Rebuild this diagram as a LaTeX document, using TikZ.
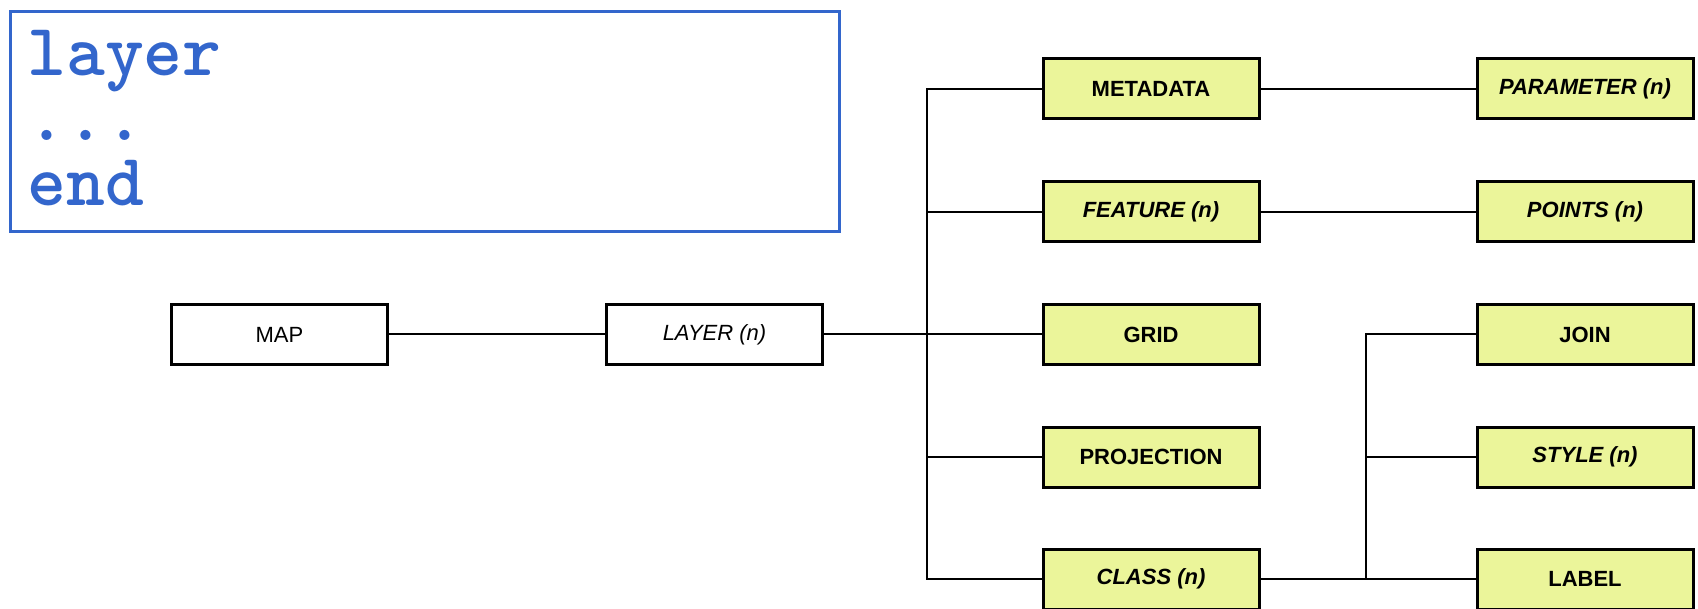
\documentclass[tikz,border=0pt]{standalone}
\usepackage{fontspec}
\newfontfamily\boxfont{Liberation Sans}
\newfontfamily\codefont{lmmonolt10-bold.otf}
\definecolor{codeblue}{RGB}{51,102,204}
\definecolor{boxyellow}{RGB}{235,245,154}

\begin{document}
\begin{tikzpicture}[x=0.5pt,y=-0.5pt,
    plain/.style={shape=rectangle,draw=black,line width=1.5pt,minimum width=108pt,minimum height=30pt,inner sep=0pt,font=\boxfont\fontsize{11}{13}\selectfont},
    entry/.style={plain,fill=boxyellow,font=\boxfont\bfseries\fontsize{11}{13}\selectfont},
    link/.style={-,black,line width=1pt}]

    \useasboundingbox (0,0) rectangle (1698,609);

    \node[shape=rectangle,draw=codeblue,line width=1.5pt,minimum width=414.5pt,minimum height=110pt] (frame) at (425,121.5) {};
    \node[anchor=base west,inner sep=0pt,align=left,text=codeblue,font=\codefont\fontsize{37}{32.5}\selectfont] (code) at (27,206) {layer\\...\\end};

    \node[plain] (map) at (279.5,334.5) {MAP};
    \node[plain] (layer) at (714.5,334.5) {\itshape LAYER (n)};

    \node[entry] (meta) at (1151,89) {METADATA};
    \node[entry] (feature) at (1151,212) {\itshape FEATURE (n)};
    \node[entry] (grid) at (1151,334.5) {GRID};
    \node[entry] (projection) at (1151,457) {PROJECTION};
    \node[entry] (class) at (1151,579) {\itshape CLASS (n)};

    \node[entry] (param) at (1585,89) {\itshape PARAMETER (n)};
    \node[entry] (points) at (1585,212) {\itshape POINTS (n)};
    \node[entry] (join) at (1585,334.5) {JOIN};
    \node[entry] (style) at (1585,457) {\itshape STYLE (n)};
    \node[entry] (label) at (1585,579) {LABEL};

    \coordinate (trunk) at (927,579);
    \coordinate (split) at (1366,579);

   \draw[link]   (map) -- (layer);
   \draw[link]   (layer) -- (grid);
   \draw[link]   (meta.west) -| (trunk) -- (class.west);
   \draw[link]   (feature.west) -- (feature.west -| trunk);
   \draw[link]   (projection.west) -- (projection.west -| trunk);
   \draw[link]   (meta) -- (param);
   \draw[link]   (feature) -- (points);
   \draw[link]   (class) -- (label);
   \draw[link]   (join.west) -| (split);
   \draw[link]   (style.west) -- (style.west -| split);
\end{tikzpicture}
\end{document}
